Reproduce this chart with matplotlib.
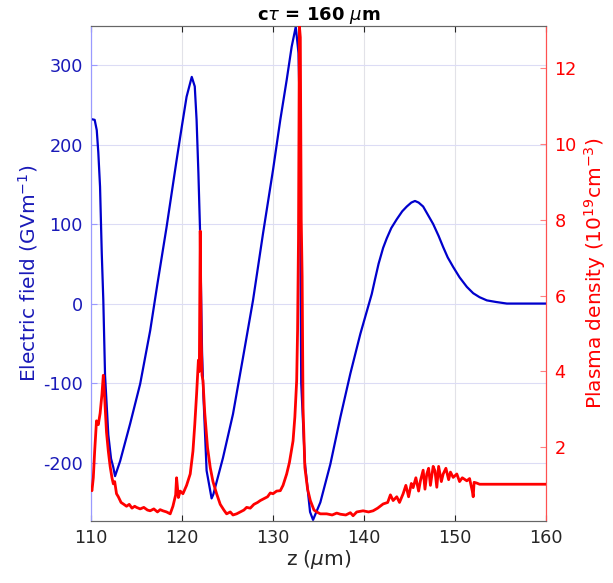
import numpy as np
import matplotlib
matplotlib.use("Agg")
import matplotlib.pyplot as plt

plt.rcParams['axes.unicode_minus'] = False
plt.rcParams['font.family'] = 'DejaVu Sans'

# electric field (left axis)
z_field = [110.0, 110.4, 110.63, 110.8, 110.99, 111.18, 111.35, 111.54, 111.9, 112.2,
           112.45, 112.64, 113.2, 114.3, 115.4, 116.5, 117.3, 118.3, 119.4, 119.97,
           120.5, 121.07, 121.4, 121.6, 121.8, 121.98, 122.2, 122.35, 122.7, 123.25,
           123.44, 124.5, 125.6, 126.7, 127.8, 128.9, 130.0, 130.8, 131.5, 132.05,
           132.5, 132.8, 132.9, 133.0, 133.1, 133.5, 134.07, 134.4, 135.2, 136.3,
           137.4, 138.5, 139.6, 140.3, 140.85, 141.2, 141.6, 142.1, 142.5, 143.0,
           143.6, 144.2, 144.7, 145.2, 145.6, 146.0, 146.5, 147.0, 147.6, 148.2,
           148.7, 149.2, 149.8, 150.5, 151.3, 152.0, 152.7, 153.5, 154.5, 155.7, 160.0]
e_field = [232, 231, 218, 190, 147, 63, 4, -90, -165, -195,
           -206, -217, -198, -151, -101, -34, 25, 96, 180, 222,
           260, 285, 273, 231, 164, 92, -60, -115, -210, -245,
           -240, -194, -139, -68, 4, 88, 168, 231, 281, 323,
           348, 315, 260, 100, -100, -200, -262, -272, -250, -202,
           -143, -88, -38, -10, 12, 30, 50, 70, 82, 95,
           106, 116, 122, 127, 129, 127, 122, 112, 100, 85,
           71, 58, 46, 33, 21, 13, 8, 4, 2, 0, 0]

# plasma density (right axis), units 1e19 cm^-3
z_dens = [110.0, 110.1, 110.25, 110.4, 110.6, 110.8, 111.0, 111.2, 111.35, 111.5,
          111.7, 111.9, 112.1, 112.3, 112.45, 112.6, 112.8, 113.0, 113.3, 113.55,
          113.9, 114.2, 114.5, 114.8, 115.0, 115.4, 115.8, 116.2, 116.5, 116.9,
          117.3, 117.6, 117.9, 118.3, 118.7, 119.0, 119.3, 119.4, 119.6, 119.8,
          120.1, 120.5, 120.9, 121.2, 121.4, 121.6, 121.8, 121.9, 122.0, 122.1,
          122.2, 122.3, 122.5, 122.8, 123.1, 123.4, 123.8, 124.2, 124.6, 124.9,
          125.3, 125.6, 126.0, 126.4, 126.8, 127.1, 127.5, 127.9, 128.3, 128.6,
          129.0, 129.4, 129.7, 130.0, 130.4, 130.8, 131.1, 131.5, 131.8, 132.2,
          132.4, 132.6, 132.7, 132.8, 132.9, 133.0, 133.1, 133.2, 133.3, 133.5,
          133.8, 134.1, 134.5, 134.8, 135.2, 135.9, 136.5, 137.0, 137.4, 138.0,
          138.5, 138.8, 139.2, 139.9, 140.5, 141.0, 141.5, 142.1, 142.6, 142.9,
          143.2, 143.6, 143.9, 144.3, 144.6, 144.9, 145.2, 145.4, 145.7, 146.0,
          146.2, 146.5, 146.7, 146.9, 147.1, 147.3, 147.6, 147.8, 148.0, 148.2,
          148.5, 148.7, 149.0, 149.3, 149.5, 149.8, 150.2, 150.5, 150.8, 151.1,
          151.3, 151.6, 151.9, 152.0, 152.1, 152.4, 152.7, 153.5, 160.0]
density = [0.93, 0.86, 1.2, 1.9, 2.7, 2.6, 2.9, 3.4, 3.9, 3.3,
           2.4, 1.9, 1.5, 1.2, 1.04, 1.1, 0.78, 0.7, 0.55, 0.51,
           0.45, 0.5, 0.4, 0.45, 0.42, 0.38, 0.42, 0.35, 0.33, 0.38,
           0.3, 0.36, 0.33, 0.3, 0.25, 0.45, 0.75, 1.2, 0.68, 0.85,
           0.78, 1.0, 1.3, 1.9, 2.6, 3.4, 4.3, 4.0, 7.7, 5.0,
           3.9, 3.76, 2.9, 2.0, 1.47, 1.1, 0.78, 0.5, 0.35, 0.25,
           0.3, 0.22, 0.25, 0.3, 0.35, 0.42, 0.4, 0.5, 0.55, 0.6,
           0.65, 0.7, 0.8, 0.78, 0.85, 0.86, 1.0, 1.3, 1.6, 2.17,
           2.8, 3.76, 5.1, 7.5, 13.1, 12.8, 8.0, 6.5, 3.05, 1.47,
           0.9, 0.6, 0.35, 0.3, 0.25, 0.25, 0.22, 0.27, 0.24, 0.22,
           0.28, 0.2, 0.3, 0.33, 0.3, 0.33, 0.4, 0.51, 0.55, 0.75,
           0.6, 0.7, 0.55, 0.78, 1.0, 0.7, 1.05, 0.94, 1.2, 0.85,
           1.12, 1.4, 0.9, 1.3, 1.45, 1.0, 1.5, 1.38, 0.95, 1.5,
           1.1, 1.3, 1.45, 1.15, 1.35, 1.21, 1.3, 1.1, 1.2, 1.15,
           1.12, 1.18, 0.85, 0.7, 1.08, 1.06, 1.03, 1.03, 1.03]

x_ticks = [110, 120, 130, 140, 150, 160]
left_ticks = [-200, -100, 0, 100, 200, 300]
right_ticks = [2, 4, 6, 8, 10, 12]

blue = '#0000cc'
red = '#ff0000'

fig = plt.figure(figsize=(6.13, 5.83), dpi=100)
ax = fig.add_axes([0.1485, 0.1069, 0.7422, 0.8485])
ax2 = ax.twinx()

ax.plot(z_field, e_field, color=blue, lw=1.6, zorder=3)
ax2.plot(z_dens, density, color=red, lw=2.0, zorder=3)

ax.set_xlim(110, 160)
ax.set_ylim(-273, 349)
ax2.set_ylim(0.07, 13.1)

ax.set_xticks(x_ticks)
ax.set_yticks(left_ticks)
ax2.set_yticks(right_ticks)

# grid: vertical gray, horizontal lavender
ax.set_axisbelow(True)
ax.xaxis.grid(True, color='#e2e2e8', lw=0.8)
ax.yaxis.grid(True, color='#dcdcf5', lw=0.8)

ax.tick_params(axis='x', direction='in', length=4, colors='#262626', labelsize=12.7,
               top=True, pad=6)
ax.tick_params(axis='y', direction='in', length=4, color='#9a9aff', labelcolor='#1a1ab8',
               labelsize=12.7, pad=6)
ax2.tick_params(axis='y', direction='in', length=4, color='#ff8080', labelcolor=red,
                labelsize=12.7, pad=6)

for a in (ax, ax2):
    a.spines['top'].set_color('#666666')
    a.spines['bottom'].set_color('#666666')
    a.spines['left'].set_color('#9a9aff')
    a.spines['right'].set_color('#ff5050')

ax.set_xlabel(r'z ($\mu$m)', fontsize=14.5, color='#262626', labelpad=1)
ax.set_ylabel(r'Electric field (GVm$^{-1}$)', fontsize=14.5, color='#1a1ab8', labelpad=2)
ax2.set_ylabel(r'Plasma density (10$^{19}$cm$^{-3}$)', fontsize=14.5, color=red, labelpad=4)
ax.set_title(r'c$\tau$ = 160 $\mu$m', fontsize=13, fontweight='bold', pad=4)

fig.savefig('out.png', dpi=100)
